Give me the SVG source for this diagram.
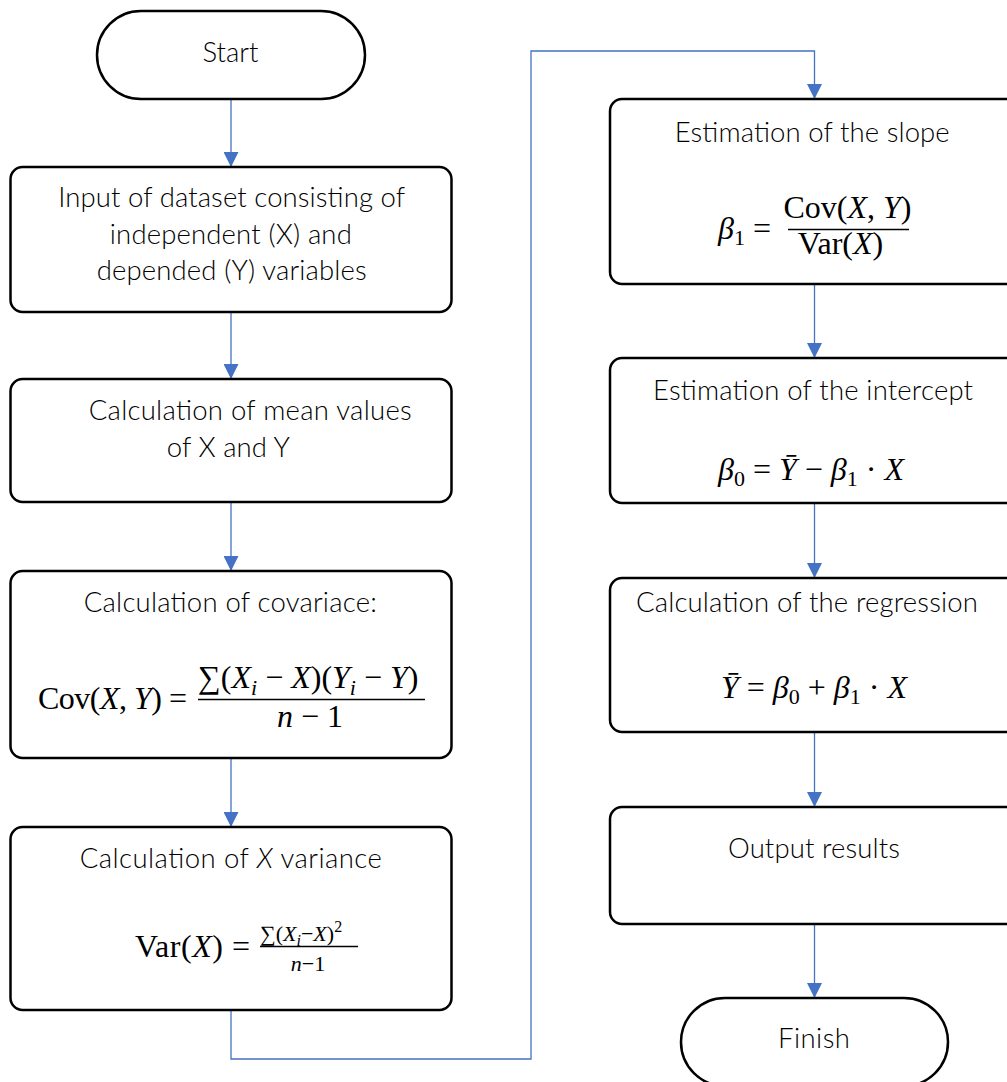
<svg xmlns="http://www.w3.org/2000/svg" width="1007" height="1082" viewBox="0 0 1007 1082">
<style>
.box{fill:#fff;stroke:#000;stroke-width:2.5}
.t{font-family:Lato,"Open Sans","Liberation Sans",sans-serif;font-weight:300;font-size:27.5px;fill:#000;text-anchor:middle}
.m{font-family:"Liberation Serif","DejaVu Serif",serif;font-size:32px;fill:#000}
.ms{font-family:"Liberation Serif","DejaVu Serif",serif;font-size:22px;fill:#000}
.c{fill:none;stroke:#4472C4;stroke-width:1.3}
.fr{stroke:#000;stroke-width:1.5}
</style>
<defs>
<marker id="ah" markerUnits="userSpaceOnUse" markerWidth="16" markerHeight="15" refX="15" refY="7.5" orient="auto">
<path d="M0,0 L15,7.5 L0,15 Z" fill="#4472C4"/>
</marker>
</defs>
<g id="connectors">
<path class="c" d="M231,99 V167" marker-end="url(#ah)"/>
<path class="c" d="M231,312 V379" marker-end="url(#ah)"/>
<path class="c" d="M231,502 V571" marker-end="url(#ah)"/>
<path class="c" d="M231,758 V827" marker-end="url(#ah)"/>
<path class="c" d="M231,1010 V1059 H531 V51 H814.5 V99" marker-end="url(#ah)"/>
<path class="c" d="M814.5,284 V358" marker-end="url(#ah)"/>
<path class="c" d="M814.5,503 V578" marker-end="url(#ah)"/>
<path class="c" d="M814.5,732 V807" marker-end="url(#ah)"/>
<path class="c" d="M814.5,924 V998" marker-end="url(#ah)"/>
</g>
<g id="start">
<rect class="box" x="97" y="11" width="268" height="88" rx="44"/>
<text class="t" x="230.5" y="62" textLength="56">Start</text>
</g>
<g id="input">
<rect class="box" x="10.5" y="167" width="441" height="145" rx="12"/>
<text class="t" x="231.7" y="207" textLength="347">Input of dataset consisting of</text>
<text class="t" x="230.8" y="244" textLength="242">independent (X) and</text>
<text class="t" x="231.7" y="280" textLength="270">depended (Y) variables</text>
</g>
<g id="mean">
<rect class="box" x="10.5" y="379" width="441" height="123" rx="12"/>
<text class="t" x="250.2" y="420" textLength="323">Calculation of mean values</text>
<text class="t" x="228.3" y="456.5" textLength="123">of X and Y</text>
</g>
<g id="covariance">
<rect class="box" x="10.5" y="571" width="441" height="187" rx="12"/>
<text class="t" x="230.3" y="611.5" textLength="293">Calculation of covariace:</text>
<text class="m" x="38" y="709" textLength="149">Cov(<tspan font-style="italic">X</tspan>, <tspan font-style="italic">Y</tspan>) =</text>
<text class="m" x="198" y="688">∑(<tspan font-style="italic">X</tspan><tspan font-size="22" font-style="italic" dy="7">i</tspan><tspan dy="-7"> − </tspan><tspan font-style="italic">X</tspan>)(<tspan font-style="italic">Y</tspan><tspan font-size="22" font-style="italic" dy="7">i</tspan><tspan dy="-7"> − </tspan><tspan font-style="italic">Y</tspan>)</text>
<line class="fr" x1="198" y1="699.5" x2="425" y2="699.5"/>
<text class="m" x="310" y="727" text-anchor="middle"><tspan font-style="italic">n</tspan> − 1</text>
</g>
<g id="variance">
<rect class="box" x="10.5" y="827" width="441" height="183" rx="12"/>
<text class="t" x="230.8" y="868" textLength="302">Calculation of <tspan font-style="italic">X</tspan> variance</text>
<text class="m" x="135" y="957" textLength="115">Var(<tspan font-style="italic">X</tspan>) =</text>
<text class="ms" x="260" y="941">∑(<tspan font-style="italic">X</tspan><tspan font-size="16" font-style="italic" dy="5">i</tspan><tspan dy="-5">−</tspan><tspan font-style="italic">X</tspan>)<tspan font-size="16" dy="-9">2</tspan></text>
<line class="fr" x1="260" y1="946.5" x2="358" y2="946.5"/>
<text class="ms" x="308" y="971" text-anchor="middle"><tspan font-style="italic">n</tspan>−1</text>
</g>
<g id="slope">
<rect class="box" x="610" y="99" width="410" height="185" rx="12"/>
<text class="t" x="812.2" y="141.5" textLength="275">Estimation of the slope</text>
<text class="m" x="718" y="239"><tspan font-style="italic">β</tspan><tspan font-size="22" dy="6">1</tspan><tspan dy="-6"> =</tspan></text>
<text class="m" x="847.5" y="218" text-anchor="middle">Cov(<tspan font-style="italic">X</tspan>, <tspan font-style="italic">Y</tspan>)</text>
<line class="fr" x1="788" y1="229.5" x2="909" y2="229.5"/>
<text class="m" x="840.5" y="254" text-anchor="middle">Var(<tspan font-style="italic">X</tspan>)</text>
</g>
<g id="intercept">
<rect class="box" x="610" y="358" width="410" height="145" rx="12"/>
<text class="t" x="813" y="400" textLength="320">Estimation of the intercept</text>
<text class="m" x="718" y="480"><tspan font-style="italic">β</tspan><tspan font-size="22" dy="6">0</tspan><tspan dy="-6"> = </tspan><tspan font-style="italic">Ȳ</tspan> − <tspan font-style="italic">β</tspan><tspan font-size="22" dy="6">1</tspan><tspan dy="-6"> · </tspan><tspan font-style="italic">X</tspan></text>
</g>
<g id="regression">
<rect class="box" x="610" y="578" width="410" height="154" rx="12"/>
<text class="t" x="807" y="611.5" textLength="342">Calculation of the regression</text>
<text class="m" x="721" y="698"><tspan font-style="italic">Ȳ</tspan> = <tspan font-style="italic">β</tspan><tspan font-size="22" dy="6">0</tspan><tspan dy="-6"> + </tspan><tspan font-style="italic">β</tspan><tspan font-size="22" dy="6">1</tspan><tspan dy="-6"> · </tspan><tspan font-style="italic">X</tspan></text>
</g>
<g id="output">
<rect class="box" x="610" y="807" width="410" height="117" rx="12"/>
<text class="t" x="814" y="858" textLength="172">Output results</text>
</g>
<g id="finish">
<rect class="box" x="681" y="998" width="267" height="88" rx="44"/>
<text class="t" x="814" y="1048" textLength="72">Finish</text>
</g>
</svg>
